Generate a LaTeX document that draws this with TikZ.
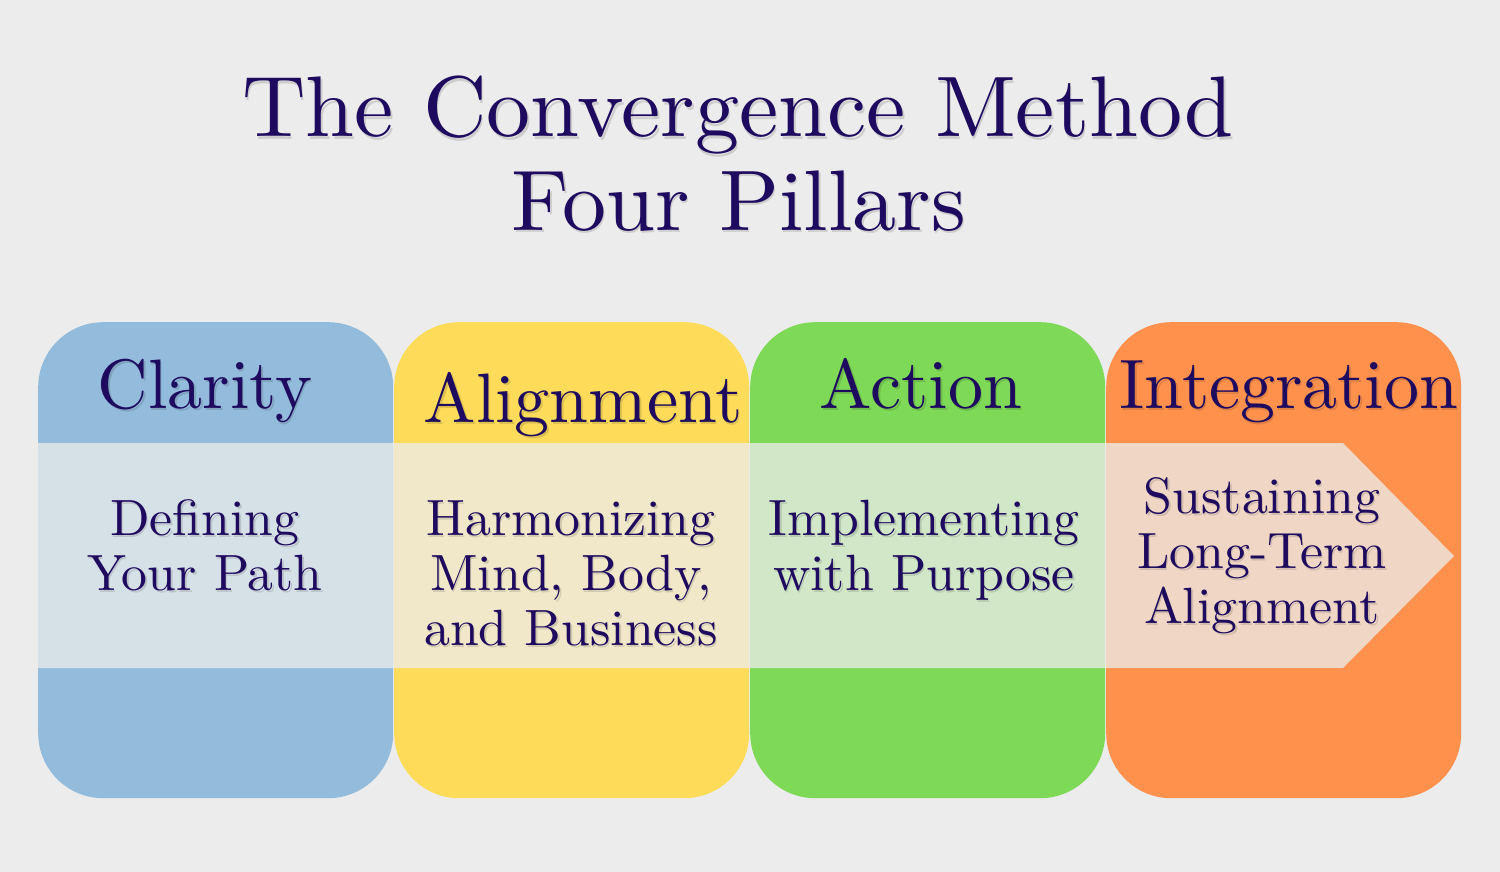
\documentclass[tikz,border=0pt]{standalone}
\usepackage{fontspec}
\newfontfamily\dispT{lmroman10-regular}[Extension=.otf, FakeStretch=1.025]
\newfontfamily\dispH{lmroman10-regular}[Extension=.otf]
\newfontfamily\dispB{lmroman10-regular}[Extension=.otf, FakeStretch=1.015]
\definecolor{bg}{HTML}{ECECEC}
\definecolor{ink}{HTML}{1E0A5E}
\definecolor{cblue}{HTML}{93BBDB}
\definecolor{cyellow}{HTML}{FEDC5A}
\definecolor{cgreen}{HTML}{7ED957}
\definecolor{corange}{HTML}{FF914D}
\tikzset{
 pill/.style={rectangle, rounded corners=65pt, inner sep=0pt, minimum width=355pt, minimum height=476pt, anchor=north west},
 head/.style={text=ink, anchor=base, font=\dispH\fontsize{70}{70}\selectfont, inner sep=0pt},
 body/.style={text=ink, anchor=base, align=center, font=\dispB\fontsize{51}{55}\selectfont, inner sep=0pt},
 ttl/.style={text=ink, anchor=base, font=\dispT\fontsize{86}{86}\selectfont, inner sep=0pt},
 shd/.style={text=black, text opacity=0.13},
}
\newcommand\stext[5]{%
 \node[#2,shd] (#1s) at (#3+1.5,#4+2.5) {#5};
 \node[#2] (#1) at (#3,#4) {#5};}
\begin{document}
\begin{tikzpicture}[x=1pt,y=-1pt]
\fill[bg] (0,0) rectangle (1500,872);
\useasboundingbox (0,0) rectangle (1500,872);
% pillars
\node[pill, fill=cblue]   (p1) at (38,322) {};
\node[pill, fill=cyellow] (p2) at (394,322) {};
\node[pill, fill=cgreen]  (p3) at (750,322) {};
\node[pill, fill=corange] (p4) at (1106,322) {};
% band arrow
\fill[bg, opacity=0.76] (38,443) -- (1343,443) -- (1454,556) -- (1343,668) -- (38,668) -- cycle;
% title
\stext{t1}{ttl}{738}{137}{The Convergence Method}
\stext{t2}{ttl}{739}{230}{Four Pillars}
% headers
\stext{h1}{head}{205}{408}{Clarity}
\stext{h2}{head}{583}{422}{Alignment}
\stext{h3}{head}{921}{408}{Action}
\stext{h4}{head}{1289}{408}{Integration}
% bodies (base anchor = last line)
\stext{b1}{body}{205}{590}{Defining\\Your Path}
\stext{b2}{body}{571}{645}{Harmonizing\\Mind, Body,\\and Business}
\stext{b3}{body}{924}{590}{Implementing\\with Purpose}
\stext{b4}{body}{1262}{623}{Sustaining\\Long-Term\\Alignment}
\end{tikzpicture}
\end{document}
